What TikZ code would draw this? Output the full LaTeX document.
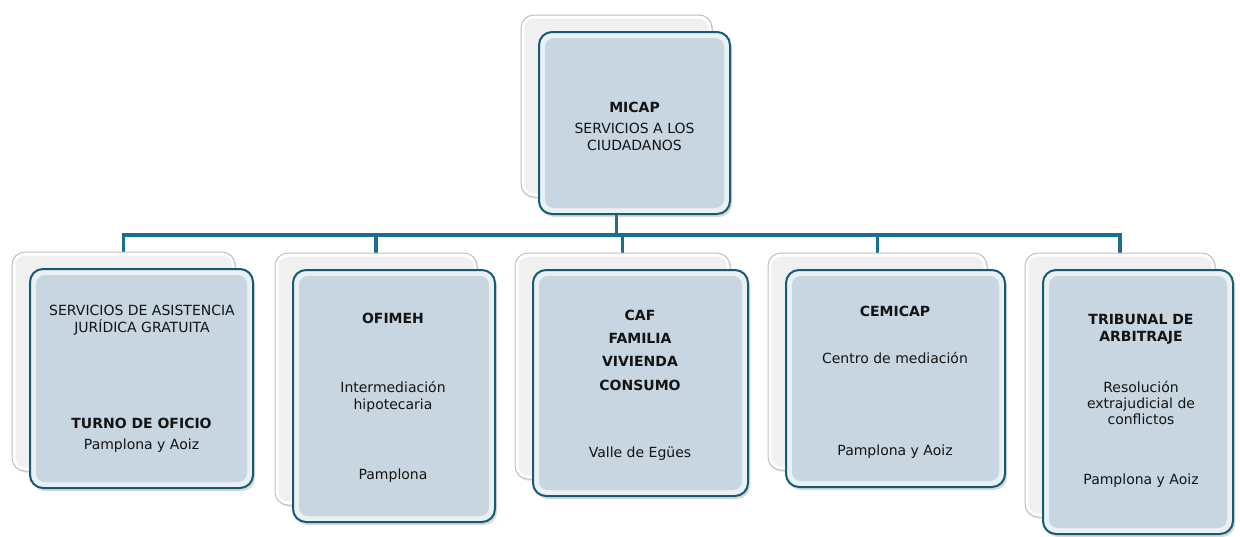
\documentclass[tikz,border=0pt]{standalone}
\usepackage{fontspec}
\setmainfont{DejaVu Sans}
\usetikzlibrary{shadows,backgrounds}

\definecolor{busblue}{RGB}{24,112,142}
\definecolor{cardedge}{RGB}{20,92,118}
\definecolor{cardband}{RGB}{234,240,243}
\definecolor{cardfill}{RGB}{199,214,224}

\tikzset{
  backbox/.style={draw=gray!50, line width=1pt, fill=white, rounded corners=13pt, inner sep=0pt,
    drop shadow={shadow xshift=1.5pt, shadow yshift=-2pt, opacity=.2}},
  frontbox/.style={draw=cardedge, line width=2pt, fill=cardband, rounded corners=13pt, inner sep=0pt,
    drop shadow={shadow xshift=2pt, shadow yshift=-3pt, opacity=.3}},
  bus/.style={draw=busblue, line width=3.5pt, line join=miter},
  txt/.style={align=center, inner sep=0pt, text=black!92, font=\fontsize{14}{17}\selectfont},
  txtb/.style={txt, font=\fontsize{14}{17}\selectfont\bfseries}
}

% card: name, centre x, centre y, width, height
\NewDocumentCommand{\fichabox}{mmmmm}{%
\node[backbox, minimum width=#4pt, minimum height=#5pt, xshift=-18pt, yshift=17pt] (#1back) at (#2,#3) {};%
\fill[gray!12, rounded corners=10pt] ([shift={(4pt,-4pt)}]#1back.north west) rectangle ([shift={(-4pt,4pt)}]#1back.south east);%
\node[frontbox, minimum width=#4pt, minimum height=#5pt] (#1) at (#2,#3) {};%
\fill[cardfill, rounded corners=9pt] ([shift={(7pt,-7pt)}]#1.north west) rectangle ([shift={(-7pt,7pt)}]#1.south east);%
}

\begin{document}
\begin{tikzpicture}[x=1pt,y=-1pt]
  \useasboundingbox (0,0) rectangle (1240,536);

  \fichabox{micap}{634.5}{123}{191}{182}
  \fichabox{aj}{141.5}{378.5}{223}{219}
  \fichabox{ofi}{394}{396}{202}{252}
  \fichabox{caf}{640.5}{383}{215}{226}
  \fichabox{cem}{895.5}{378.5}{219}{217}
  \fichabox{arb}{1138}{402}{190}{264}

  % top card
  \node[txtb] (micapt1) at (634.5,107) {MICAP};
  \node[txt] (micapt2) at (634.5,136.5) {SERVICIOS A LOS\\CIUDADANOS};

  % lower cards
  \node[txt] (ajt1) at (142,320) {SERVICIOS DE ASISTENCIA\\JURÍDICA GRATUITA};
  \node[txtb] (ajt2) at (141.5,423) {TURNO DE OFICIO};
  \node[txt] (ajt3) at (141.5,446) {Pamplona y Aoiz};

  \node[txtb] (ofit1) at (393,318) {OFIMEH};
  \node[txt] (ofit2) at (393,397) {Intermediación\\hipotecaria};
  \node[txt] (ofit3) at (393,476) {Pamplona};

  \node[txtb, font=\fontsize{14}{23.3}\selectfont\bfseries] (caft1) at (640,350) {CAF\\FAMILIA\\VIVIENDA\\CONSUMO};
  \node[txt] (caft2) at (640,454) {Valle de Egües};

  \node[txtb] (cemt1) at (895,311) {CEMICAP};
  \node[txt] (cemt2) at (895,358) {Centro de mediación};
  \node[txt] (cemt3) at (895,452) {Pamplona y Aoiz};

  \node[txtb] (arbt1) at (1141,329.5) {TRIBUNAL DE\\ARBITRAJE};
  \node[txt, font=\fontsize{14}{16}\selectfont] (arbt2) at (1141,403) {Resolución\\extrajudicial de\\conflictos};
  \node[txt] (arbt3) at (1141,481) {Pamplona y Aoiz};

  % connectors behind the cards
  \begin{scope}[on background layer]
    \coordinate (busy) at (0,235);
    \draw[bus] (micapback.south) -- (micapback.south |- busy);
    \draw[bus] (ajback.north) |- (arbback.north |- busy) -- (arbback.north);
    \foreach \n in {ofi,caf,cem}
      \draw[bus] (\n back.north |- busy) -- (\n back.north);
  \end{scope}
\end{tikzpicture}
\end{document}
